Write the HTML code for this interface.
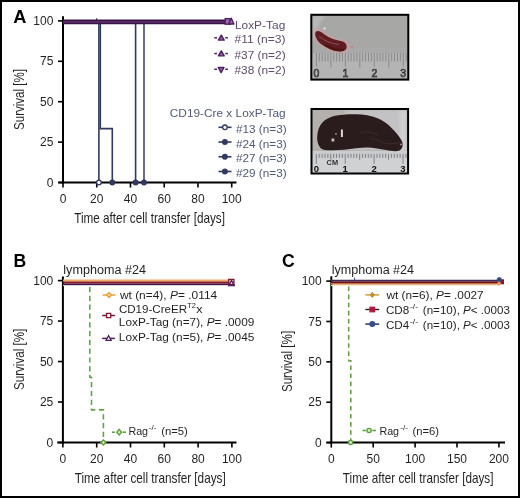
<!DOCTYPE html><html><head><meta charset="utf-8"><style>html,body{margin:0;padding:0;background:#fff}svg{display:block;will-change:transform}text{font-family:"Liberation Sans", sans-serif}</style></head><body>
<svg width="520" height="498" viewBox="0 0 520 498">
<rect x="0" y="0" width="520" height="498" fill="#fff"/>
<defs><filter id="bl1" x="-20%" y="-20%" width="140%" height="140%"><feGaussianBlur stdDeviation="0.7"/></filter><filter id="bl2" x="-20%" y="-20%" width="140%" height="140%"><feGaussianBlur stdDeviation="1.5"/></filter><linearGradient id="pg1" x1="0" y1="0" x2="0" y2="1"><stop offset="0" stop-color="#bdbdbd"/><stop offset="0.55" stop-color="#c2c2c2"/><stop offset="0.62" stop-color="#d4d4d4"/><stop offset="1" stop-color="#cacaca"/></linearGradient><linearGradient id="pg2" x1="0" y1="0" x2="0" y2="1"><stop offset="0" stop-color="#d0d0d0"/><stop offset="0.65" stop-color="#d8d8d8"/><stop offset="1" stop-color="#dcdcdc"/></linearGradient></defs>
<text x="13.3" y="23.3" font-size="17.8" fill="#000" text-anchor="start" font-weight="bold" textLength="13.2" lengthAdjust="spacingAndGlyphs">A</text>
<line x1="63" y1="16.2" x2="63" y2="183.5" stroke="#000" stroke-width="2"/>
<line x1="58.5" y1="182.5" x2="236.5" y2="182.5" stroke="#000" stroke-width="2"/>
<line x1="58" y1="182.50" x2="63" y2="182.50" stroke="#000" stroke-width="1.6"/>
<text x="53.4" y="186.6" font-size="12" fill="#231f20" text-anchor="end" font-weight="normal">0</text>
<line x1="58" y1="142.10" x2="63" y2="142.10" stroke="#000" stroke-width="1.6"/>
<text x="53.4" y="146.2" font-size="12" fill="#231f20" text-anchor="end" font-weight="normal">25</text>
<line x1="58" y1="101.70" x2="63" y2="101.70" stroke="#000" stroke-width="1.6"/>
<text x="53.4" y="105.8" font-size="12" fill="#231f20" text-anchor="end" font-weight="normal">50</text>
<line x1="58" y1="61.30" x2="63" y2="61.30" stroke="#000" stroke-width="1.6"/>
<text x="53.4" y="65.4" font-size="12" fill="#231f20" text-anchor="end" font-weight="normal">75</text>
<line x1="58" y1="20.90" x2="63" y2="20.90" stroke="#000" stroke-width="1.6"/>
<text x="53.4" y="25.0" font-size="12" fill="#231f20" text-anchor="end" font-weight="normal">100</text>
<line x1="63.00" y1="182.5" x2="63.00" y2="187.5" stroke="#000" stroke-width="1.6"/>
<text x="63.0" y="202.7" font-size="12" fill="#231f20" text-anchor="middle" font-weight="normal">0</text>
<line x1="96.74" y1="182.5" x2="96.74" y2="187.5" stroke="#000" stroke-width="1.6"/>
<text x="96.74" y="202.7" font-size="12" fill="#231f20" text-anchor="middle" font-weight="normal">20</text>
<line x1="130.48" y1="182.5" x2="130.48" y2="187.5" stroke="#000" stroke-width="1.6"/>
<text x="130.48" y="202.7" font-size="12" fill="#231f20" text-anchor="middle" font-weight="normal">40</text>
<line x1="164.22" y1="182.5" x2="164.22" y2="187.5" stroke="#000" stroke-width="1.6"/>
<text x="164.22" y="202.7" font-size="12" fill="#231f20" text-anchor="middle" font-weight="normal">60</text>
<line x1="197.96" y1="182.5" x2="197.96" y2="187.5" stroke="#000" stroke-width="1.6"/>
<text x="197.96" y="202.7" font-size="12" fill="#231f20" text-anchor="middle" font-weight="normal">80</text>
<line x1="231.70" y1="182.5" x2="231.70" y2="187.5" stroke="#000" stroke-width="1.6"/>
<text x="231.7" y="202.7" font-size="12" fill="#231f20" text-anchor="middle" font-weight="normal">100</text>
<text x="74.2" y="223.1" font-size="14.8" fill="#231f20" text-anchor="start" font-weight="normal" textLength="150.8" lengthAdjust="spacingAndGlyphs">Time after cell transfer [days]</text>
<text transform="translate(23.6,99.5) rotate(-90)" x="0" y="0" font-size="15.2" fill="#231f20" text-anchor="middle" textLength="61" lengthAdjust="spacingAndGlyphs">Survival [%]</text>
<g stroke="#30395e" fill="none" stroke-width="1.6">
<line x1="98.9" y1="21" x2="98.9" y2="182"/>
<polyline points="100.3,21 100.3,128.6 112.3,128.6 112.3,182"/>
<line x1="135.6" y1="21" x2="135.6" y2="182"/>
<line x1="144" y1="21" x2="144" y2="182" stroke="#434a68"/>
</g>
<circle cx="98.9" cy="182.5" r="2.3" fill="#fff" stroke="#30395e" stroke-width="1.3"/>
<circle cx="112.3" cy="182.5" r="2.3" fill="#30395e" stroke="#30395e" stroke-width="1.3"/>
<circle cx="135.6" cy="182.5" r="2.3" fill="#30395e" stroke="#30395e" stroke-width="1.3"/>
<circle cx="144" cy="182.5" r="2.3" fill="#30395e" stroke="#30395e" stroke-width="1.3"/>
<line x1="63" y1="21.9" x2="226" y2="21.9" stroke="#3a1448" stroke-width="4.6"/>
<line x1="63" y1="21.9" x2="226" y2="21.9" stroke="#56295f" stroke-width="2"/>
<line x1="96.7" y1="18.2" x2="96.7" y2="20.5" stroke="#2a2238" stroke-width="1.1"/>
<rect x="225.2" y="18.6" width="5" height="5.6" fill="#9a6ab0" stroke="#4d1d5f" stroke-width="1.3"/>
<polygon points="231.3,18.2 234,24 228.6,24" fill="#9a6ab0" stroke="#4d1d5f" stroke-width="1.3" stroke-linejoin="round"/>
<text x="234.9" y="28.8" font-size="11" fill="#5e4c6c" text-anchor="start" font-weight="normal" textLength="50.4" lengthAdjust="spacingAndGlyphs">LoxP-Tag</text>
<line x1="214.3" y1="37.8" x2="217" y2="37.8" stroke="#4d1d5f" stroke-width="1.5"/>
<line x1="225.3" y1="37.8" x2="227.9" y2="37.8" stroke="#4d1d5f" stroke-width="1.5"/>
<polygon points="221.3,35.199999999999996 224.2,40.099999999999994 218.4,40.099999999999994" fill="#8d6a9c" stroke="#4d1d5f" stroke-width="1.4" stroke-linejoin="round"/>
<text x="234.5" y="42.7" font-size="11" fill="#5e4c6c" text-anchor="start" font-weight="normal" textLength="51.1" lengthAdjust="spacingAndGlyphs">#11 (n=3)</text>
<line x1="214.3" y1="53.55" x2="217" y2="53.55" stroke="#4d1d5f" stroke-width="1.5"/>
<line x1="225.3" y1="53.55" x2="227.9" y2="53.55" stroke="#4d1d5f" stroke-width="1.5"/>
<polygon points="221.3,50.949999999999996 224.2,55.849999999999994 218.4,55.849999999999994" fill="#8d6a9c" stroke="#4d1d5f" stroke-width="1.4" stroke-linejoin="round"/>
<text x="234.5" y="58.55" font-size="11" fill="#5e4c6c" text-anchor="start" font-weight="normal" textLength="51.1" lengthAdjust="spacingAndGlyphs">#37 (n=2)</text>
<line x1="214.3" y1="69.3" x2="217" y2="69.3" stroke="#4d1d5f" stroke-width="1.5"/>
<line x1="225.3" y1="69.3" x2="227.9" y2="69.3" stroke="#4d1d5f" stroke-width="1.5"/>
<polygon points="221.1,72.6 224,67.5 218.2,67.5" fill="#8d6a9c" stroke="#4d1d5f" stroke-width="1.4" stroke-linejoin="round"/>
<text x="234.5" y="74.4" font-size="11" fill="#5e4c6c" text-anchor="start" font-weight="normal" textLength="51.1" lengthAdjust="spacingAndGlyphs">#38 (n=2)</text>
<text x="169.8" y="117.2" font-size="11" fill="#4f5a74" text-anchor="start" font-weight="normal" textLength="115.8" lengthAdjust="spacingAndGlyphs">CD19-Cre x LoxP-Tag</text>
<line x1="218.5" y1="127.3" x2="231.5" y2="127.3" stroke="#30395e" stroke-width="1.6"/>
<circle cx="224.9" cy="127.3" r="2.3" fill="#fff" stroke="#30395e" stroke-width="1.3"/>
<text x="236" y="133.0" font-size="11" fill="#4f5a74" text-anchor="start" font-weight="normal" textLength="50.6" lengthAdjust="spacingAndGlyphs">#13 (n=3)</text>
<line x1="218.5" y1="142.03" x2="231.5" y2="142.03" stroke="#30395e" stroke-width="1.6"/>
<circle cx="224.9" cy="142.03" r="2.3" fill="#30395e" stroke="#30395e" stroke-width="1.3"/>
<text x="236" y="147.73" font-size="11" fill="#4f5a74" text-anchor="start" font-weight="normal" textLength="50.6" lengthAdjust="spacingAndGlyphs">#24 (n=3)</text>
<line x1="218.5" y1="156.76" x2="231.5" y2="156.76" stroke="#30395e" stroke-width="1.6"/>
<circle cx="224.9" cy="156.76" r="2.3" fill="#30395e" stroke="#30395e" stroke-width="1.3"/>
<text x="236" y="162.46" font-size="11" fill="#4f5a74" text-anchor="start" font-weight="normal" textLength="50.6" lengthAdjust="spacingAndGlyphs">#27 (n=3)</text>
<line x1="218.5" y1="171.49" x2="231.5" y2="171.49" stroke="#30395e" stroke-width="1.6"/>
<circle cx="224.9" cy="171.49" r="2.3" fill="#30395e" stroke="#30395e" stroke-width="1.3"/>
<text x="236" y="177.19" font-size="11" fill="#4f5a74" text-anchor="start" font-weight="normal" textLength="50.6" lengthAdjust="spacingAndGlyphs">#29 (n=3)</text>
<rect x="311.3" y="14.8" width="97" height="64.8" fill="#a7a7a5"/>
<path d="M312,16 L326,16 C320,20 317,27 317,33 L312,44 Z" fill="#b8b8b8" filter="url(#bl2)"/>
<rect x="312" y="48" width="95" height="5.5" fill="#a9a9a9" filter="url(#bl1)"/>
<rect x="312" y="53" width="95" height="25" fill="#b4b4b4"/>
<g filter="url(#bl1)"><path d="M314,30 C316,26.5 320,27.5 324.5,31.5 C330,36 336,38.2 342,39.4 C347,40.5 350,44 349.5,48 C349,52 344.5,54 339,53.5 C332,53 326,50 320,45.5 C315.5,42 312.5,34.5 314,30 Z" fill="#c9a0a0" opacity="0.6"/><path d="M315.6,32 C317.5,30 321,31.5 324.5,34.5 C329.5,38.3 336,40.2 342,41.3 C345.5,42.2 347,45 346.6,47.8 C346,50.6 343,52 338.5,51.6 C332,51 326.5,48 321,44 C317,40.8 314.2,35.5 315.6,32 Z" fill="#5e1e20"/><path d="M325,44.5 C331,48.5 337,50.5 344,50" stroke="#481416" stroke-width="2" fill="none"/><path d="M319,36.5 C325,41 331,43.5 339,44.5" stroke="#8a5055" stroke-width="1" fill="none"/><circle cx="352" cy="47" r="1.6" fill="#c08a8a"/><circle cx="324.5" cy="28.5" r="1.3" fill="#d8d8d8"/></g>
<g stroke="#8a8a8a" stroke-width="1">
<line x1="316.40" y1="53" x2="316.40" y2="66.5"/>
<line x1="319.29" y1="53" x2="319.29" y2="61.5"/>
<line x1="322.19" y1="53" x2="322.19" y2="61.5"/>
<line x1="325.08" y1="53" x2="325.08" y2="61.5"/>
<line x1="327.98" y1="53" x2="327.98" y2="61.5"/>
<line x1="330.88" y1="53" x2="330.88" y2="67.5"/>
<line x1="333.77" y1="53" x2="333.77" y2="61.5"/>
<line x1="336.66" y1="53" x2="336.66" y2="61.5"/>
<line x1="339.56" y1="53" x2="339.56" y2="61.5"/>
<line x1="342.45" y1="53" x2="342.45" y2="61.5"/>
<line x1="345.35" y1="53" x2="345.35" y2="66.5"/>
<line x1="348.25" y1="53" x2="348.25" y2="61.5"/>
<line x1="351.14" y1="53" x2="351.14" y2="61.5"/>
<line x1="354.03" y1="53" x2="354.03" y2="61.5"/>
<line x1="356.93" y1="53" x2="356.93" y2="61.5"/>
<line x1="359.82" y1="53" x2="359.82" y2="67.5"/>
<line x1="362.72" y1="53" x2="362.72" y2="61.5"/>
<line x1="365.62" y1="53" x2="365.62" y2="61.5"/>
<line x1="368.51" y1="53" x2="368.51" y2="61.5"/>
<line x1="371.40" y1="53" x2="371.40" y2="61.5"/>
<line x1="374.30" y1="53" x2="374.30" y2="66.5"/>
<line x1="377.19" y1="53" x2="377.19" y2="61.5"/>
<line x1="380.09" y1="53" x2="380.09" y2="61.5"/>
<line x1="382.98" y1="53" x2="382.98" y2="61.5"/>
<line x1="385.88" y1="53" x2="385.88" y2="61.5"/>
<line x1="388.77" y1="53" x2="388.77" y2="67.5"/>
<line x1="391.67" y1="53" x2="391.67" y2="61.5"/>
<line x1="394.56" y1="53" x2="394.56" y2="61.5"/>
<line x1="397.46" y1="53" x2="397.46" y2="61.5"/>
<line x1="400.35" y1="53" x2="400.35" y2="61.5"/>
<line x1="403.25" y1="53" x2="403.25" y2="66.5"/>
<line x1="406.14" y1="53" x2="406.14" y2="61.5"/>
</g>
<text x="316.4" y="77.4" font-size="10.5" fill="#8a8a8a" text-anchor="middle" font-weight="normal" stroke="#2a2a2a" stroke-width="0.6">0</text>
<text x="345.35" y="77.4" font-size="10.5" fill="#8a8a8a" text-anchor="middle" font-weight="normal" stroke="#2a2a2a" stroke-width="0.6">1</text>
<text x="374.3" y="77.4" font-size="10.5" fill="#8a8a8a" text-anchor="middle" font-weight="normal" stroke="#2a2a2a" stroke-width="0.6">2</text>
<text x="403.25" y="77.4" font-size="10.5" fill="#8a8a8a" text-anchor="middle" font-weight="normal" stroke="#2a2a2a" stroke-width="0.6">3</text>
<rect x="311.3" y="14.8" width="97" height="64.8" fill="none" stroke="#000" stroke-width="2"/>
<rect x="311.5" y="109" width="96.6" height="64.5" fill="#b4b0ae"/>
<rect x="345" y="110" width="55" height="40" fill="#c2c1c4" filter="url(#bl2)"/>
<rect x="399" y="110" width="8" height="42" fill="#cfcfd0" filter="url(#bl2)"/>
<rect x="312" y="151" width="95" height="22" fill="#cbcccf"/>
<rect x="312" y="158.5" width="95" height="14.5" fill="#d0d1d3"/>
<g filter="url(#bl1)"><path d="M317.2,137 C317.5,131 319,126.5 322,123 C325,119.5 329,117.3 334,116 C340,114.6 348,114.2 356,114.3 C364,114.4 371,115.8 377,118 C383,120.3 388,124 392,128.5 C396,132.5 399.5,136.5 401.5,140.5 C403.5,144 403,148.5 399.5,150.5 C396,151.8 391,151 386,150 C380,149 374,147.8 367,147.6 C360,147.6 352,149 344,149.7 C336,150.3 328,150.6 323,149.4 C319,148 317,142.5 317.2,137 Z" fill="#2c1c1b"/></g>
<g filter="url(#bl1)" fill="none" stroke="#4a302c" stroke-width="0.9" opacity="0.8"><path d="M369.5,138 C376,139 381,142 386,143.5 C391,144.5 396,142.5 400.5,142.8"/><path d="M360,133 C366,131 372,132 378,135"/></g>
<g filter="url(#bl1)"><rect x="340.9" y="129.5" width="2" height="7.5" fill="#e0d4d4"/><rect x="331.5" y="138.5" width="2.8" height="3" fill="#c8b8b8"/><circle cx="336" cy="134" r="1" fill="#9a8080"/><circle cx="401" cy="144.5" r="1.1" fill="#a08282"/></g>
<g stroke="#7a7a7a" stroke-width="0.9">
<line x1="316.30" y1="153.8" x2="316.30" y2="163.8"/>
<line x1="319.19" y1="153.8" x2="319.19" y2="157.8"/>
<line x1="322.08" y1="153.8" x2="322.08" y2="157.8"/>
<line x1="324.97" y1="153.8" x2="324.97" y2="157.8"/>
<line x1="327.86" y1="153.8" x2="327.86" y2="157.8"/>
<line x1="330.75" y1="153.8" x2="330.75" y2="159.8"/>
<line x1="333.64" y1="153.8" x2="333.64" y2="157.8"/>
<line x1="336.53" y1="153.8" x2="336.53" y2="157.8"/>
<line x1="339.42" y1="153.8" x2="339.42" y2="157.8"/>
<line x1="342.31" y1="153.8" x2="342.31" y2="157.8"/>
<line x1="345.20" y1="153.8" x2="345.20" y2="163.8"/>
<line x1="348.09" y1="153.8" x2="348.09" y2="157.8"/>
<line x1="350.98" y1="153.8" x2="350.98" y2="157.8"/>
<line x1="353.87" y1="153.8" x2="353.87" y2="157.8"/>
<line x1="356.76" y1="153.8" x2="356.76" y2="157.8"/>
<line x1="359.65" y1="153.8" x2="359.65" y2="159.8"/>
<line x1="362.54" y1="153.8" x2="362.54" y2="157.8"/>
<line x1="365.43" y1="153.8" x2="365.43" y2="157.8"/>
<line x1="368.32" y1="153.8" x2="368.32" y2="157.8"/>
<line x1="371.21" y1="153.8" x2="371.21" y2="157.8"/>
<line x1="374.10" y1="153.8" x2="374.10" y2="163.8"/>
<line x1="376.99" y1="153.8" x2="376.99" y2="157.8"/>
<line x1="379.88" y1="153.8" x2="379.88" y2="157.8"/>
<line x1="382.77" y1="153.8" x2="382.77" y2="157.8"/>
<line x1="385.66" y1="153.8" x2="385.66" y2="157.8"/>
<line x1="388.55" y1="153.8" x2="388.55" y2="159.8"/>
<line x1="391.44" y1="153.8" x2="391.44" y2="157.8"/>
<line x1="394.33" y1="153.8" x2="394.33" y2="157.8"/>
<line x1="397.22" y1="153.8" x2="397.22" y2="157.8"/>
<line x1="400.11" y1="153.8" x2="400.11" y2="157.8"/>
<line x1="403.00" y1="153.8" x2="403.00" y2="163.8"/>
<line x1="405.89" y1="153.8" x2="405.89" y2="157.8"/>
</g>
<text x="332.3" y="164.9" font-size="8" fill="#333" text-anchor="middle" font-weight="bold" textLength="11.5" lengthAdjust="spacingAndGlyphs">CM</text>
<text x="316.3" y="172.3" font-size="9.5" fill="#111" text-anchor="middle" font-weight="bold">0</text>
<text x="345.2" y="172.3" font-size="9.5" fill="#111" text-anchor="middle" font-weight="bold">1</text>
<text x="374.1" y="172.3" font-size="9.5" fill="#111" text-anchor="middle" font-weight="bold">2</text>
<text x="403.0" y="172.3" font-size="9.5" fill="#111" text-anchor="middle" font-weight="bold">3</text>
<rect x="311.5" y="109" width="96.6" height="64.5" fill="none" stroke="#000" stroke-width="2"/>
<text x="13.4" y="266.9" font-size="17.6" fill="#000" text-anchor="start" font-weight="bold">B</text>
<text x="63.3" y="274.3" font-size="12" fill="#231f20" text-anchor="start" font-weight="normal" textLength="82.8" lengthAdjust="spacingAndGlyphs">lymphoma #24</text>
<line x1="62.9" y1="276.5" x2="62.9" y2="443.5" stroke="#000" stroke-width="2"/>
<line x1="57.3" y1="442.5" x2="236.5" y2="442.5" stroke="#000" stroke-width="2"/>
<line x1="57.9" y1="442.50" x2="62.9" y2="442.50" stroke="#000" stroke-width="1.6"/>
<text x="53.3" y="446.6" font-size="12" fill="#231f20" text-anchor="end" font-weight="normal">0</text>
<line x1="57.9" y1="402.02" x2="62.9" y2="402.02" stroke="#000" stroke-width="1.6"/>
<text x="53.3" y="406.12" font-size="12" fill="#231f20" text-anchor="end" font-weight="normal">25</text>
<line x1="57.9" y1="361.55" x2="62.9" y2="361.55" stroke="#000" stroke-width="1.6"/>
<text x="53.3" y="365.65" font-size="12" fill="#231f20" text-anchor="end" font-weight="normal">50</text>
<line x1="57.9" y1="321.08" x2="62.9" y2="321.08" stroke="#000" stroke-width="1.6"/>
<text x="53.3" y="325.18" font-size="12" fill="#231f20" text-anchor="end" font-weight="normal">75</text>
<line x1="57.9" y1="280.60" x2="62.9" y2="280.60" stroke="#000" stroke-width="1.6"/>
<text x="53.3" y="284.7" font-size="12" fill="#231f20" text-anchor="end" font-weight="normal">100</text>
<line x1="62.90" y1="442.5" x2="62.90" y2="447.5" stroke="#000" stroke-width="1.6"/>
<text x="62.9" y="462.7" font-size="12" fill="#231f20" text-anchor="middle" font-weight="normal">0</text>
<line x1="96.70" y1="442.5" x2="96.70" y2="447.5" stroke="#000" stroke-width="1.6"/>
<text x="96.7" y="462.7" font-size="12" fill="#231f20" text-anchor="middle" font-weight="normal">20</text>
<line x1="130.50" y1="442.5" x2="130.50" y2="447.5" stroke="#000" stroke-width="1.6"/>
<text x="130.5" y="462.7" font-size="12" fill="#231f20" text-anchor="middle" font-weight="normal">40</text>
<line x1="164.30" y1="442.5" x2="164.30" y2="447.5" stroke="#000" stroke-width="1.6"/>
<text x="164.3" y="462.7" font-size="12" fill="#231f20" text-anchor="middle" font-weight="normal">60</text>
<line x1="198.10" y1="442.5" x2="198.10" y2="447.5" stroke="#000" stroke-width="1.6"/>
<text x="198.1" y="462.7" font-size="12" fill="#231f20" text-anchor="middle" font-weight="normal">80</text>
<line x1="231.90" y1="442.5" x2="231.90" y2="447.5" stroke="#000" stroke-width="1.6"/>
<text x="231.9" y="462.7" font-size="12" fill="#231f20" text-anchor="middle" font-weight="normal">100</text>
<text x="74.7" y="483.2" font-size="14.8" fill="#231f20" text-anchor="start" font-weight="normal" textLength="151" lengthAdjust="spacingAndGlyphs">Time after cell transfer [days]</text>
<text transform="translate(23.7,359.4) rotate(-90)" x="0" y="0" font-size="15.2" fill="#231f20" text-anchor="middle" textLength="61.2" lengthAdjust="spacingAndGlyphs">Survival [%]</text>
<polyline points="89.8,285 89.8,377.3 91.5,377.3 91.5,409.9 103.4,409.9 103.4,441" fill="none" stroke="#68a04e" stroke-width="1.6" stroke-dasharray="5.2,3.6" stroke-dashoffset="6.8"/>
<polygon points="103.4,439.9 105.9,442.4 103.4,444.9 100.9,442.4" fill="#d4f0c0" stroke="#5c9e3c" stroke-width="1.4"/>
<line x1="63" y1="285.6" x2="228" y2="285.6" stroke="#ddd0e6" stroke-width="1"/>
<line x1="63" y1="280.6" x2="228" y2="280.6" stroke="#eeaa62" stroke-width="2"/>
<line x1="63" y1="282.6" x2="228" y2="282.6" stroke="#8a1824" stroke-width="2"/>
<line x1="63" y1="284.3" x2="228" y2="284.3" stroke="#46103e" stroke-width="1.4"/>
<rect x="228.70000000000002" y="279.4" width="5.2" height="5.2" fill="#f3d0d8" stroke="#7d1830" stroke-width="1.3"/>
<polygon points="231.5,280.5 234.35,285.6 228.65,285.6" fill="none" stroke="#4d1d5f" stroke-width="1.3"/>
<line x1="102.8" y1="295" x2="115.5" y2="295" stroke="#e9a13b" stroke-width="1.5"/>
<polygon points="109.1,292.5 111.6,295 109.1,297.5 106.6,295" fill="#f6d9a8" stroke="#e9a13b" stroke-width="1.3"/>
<text x="119.9" y="298.7" font-size="11" fill="#231f20" text-anchor="start" font-weight="normal" textLength="97.3" lengthAdjust="spacingAndGlyphs">wt (n=4), <tspan font-style="italic">P</tspan>= .0114</text>
<line x1="102.2" y1="315.5" x2="114.9" y2="315.5" stroke="#7d1830" stroke-width="1.5"/>
<rect x="106.5" y="313.4" width="4.2" height="4.2" fill="#fff" stroke="#7d1830" stroke-width="1.3"/>
<text x="118.9" y="312.5" font-size="11" fill="#231f20" text-anchor="start" font-weight="normal" textLength="68.2" lengthAdjust="spacingAndGlyphs">CD19-CreER</text>
<text x="187.3" y="308.3" font-size="7.5" fill="#231f20" text-anchor="start" font-weight="normal" textLength="8.6" lengthAdjust="spacingAndGlyphs">T2</text>
<text x="196.3" y="313.2" font-size="11" fill="#231f20" text-anchor="start" font-weight="normal" textLength="6.3" lengthAdjust="spacingAndGlyphs">x</text>
<text x="118.8" y="325.8" font-size="11" fill="#231f20" text-anchor="start" font-weight="normal" textLength="135.6" lengthAdjust="spacingAndGlyphs">LoxP-Tag (n=7), <tspan font-style="italic">P</tspan>= .0009</text>
<line x1="102.2" y1="338.4" x2="114.9" y2="338.4" stroke="#4d1d5f" stroke-width="1.5"/>
<polygon points="108.6,335.7 111.16499999999999,340.28999999999996 106.035,340.28999999999996" fill="#fff" stroke="#4d1d5f" stroke-width="1.3"/>
<text x="118.8" y="341.2" font-size="11" fill="#231f20" text-anchor="start" font-weight="normal" textLength="135.6" lengthAdjust="spacingAndGlyphs">LoxP-Tag (n=5), <tspan font-style="italic">P</tspan>= .0045</text>
<line x1="111.9" y1="432.2" x2="114.8" y2="432.2" stroke="#5c9e3c" stroke-width="1.6"/>
<line x1="122.8" y1="432.2" x2="125.9" y2="432.2" stroke="#5c9e3c" stroke-width="1.6"/>
<polygon points="119.2,429.4 121.6,432.2 119.2,435 116.8,432.2" fill="#d4f0c0" stroke="#5c9e3c" stroke-width="1.4"/>
<text x="128.4" y="435.1" font-size="11" fill="#231f20" text-anchor="start" font-weight="normal" textLength="19.7" lengthAdjust="spacingAndGlyphs">Rag</text>
<text x="148.8" y="430" font-size="6.5" fill="#231f20" text-anchor="start" font-weight="normal" textLength="7.7" lengthAdjust="spacingAndGlyphs">-/-</text>
<text x="161.2" y="435.1" font-size="11" fill="#231f20" text-anchor="start" font-weight="normal" textLength="26.7" lengthAdjust="spacingAndGlyphs">(n=5)</text>
<text x="282" y="267.3" font-size="17.6" fill="#000" text-anchor="start" font-weight="bold">C</text>
<text x="331.8" y="274.2" font-size="12" fill="#231f20" text-anchor="start" font-weight="normal" textLength="82.2" lengthAdjust="spacingAndGlyphs">lymphoma #24</text>
<line x1="331.3" y1="276.3" x2="331.3" y2="443.6" stroke="#000" stroke-width="2"/>
<line x1="326.5" y1="442.6" x2="505" y2="442.6" stroke="#000" stroke-width="2"/>
<line x1="326.3" y1="442.60" x2="331.3" y2="442.60" stroke="#000" stroke-width="1.6"/>
<text x="321.7" y="446.7" font-size="12" fill="#231f20" text-anchor="end" font-weight="normal">0</text>
<line x1="326.3" y1="402.23" x2="331.3" y2="402.23" stroke="#000" stroke-width="1.6"/>
<text x="321.7" y="406.33" font-size="12" fill="#231f20" text-anchor="end" font-weight="normal">25</text>
<line x1="326.3" y1="361.85" x2="331.3" y2="361.85" stroke="#000" stroke-width="1.6"/>
<text x="321.7" y="365.95" font-size="12" fill="#231f20" text-anchor="end" font-weight="normal">50</text>
<line x1="326.3" y1="321.48" x2="331.3" y2="321.48" stroke="#000" stroke-width="1.6"/>
<text x="321.7" y="325.58" font-size="12" fill="#231f20" text-anchor="end" font-weight="normal">75</text>
<line x1="326.3" y1="281.10" x2="331.3" y2="281.10" stroke="#000" stroke-width="1.6"/>
<text x="321.7" y="285.2" font-size="12" fill="#231f20" text-anchor="end" font-weight="normal">100</text>
<line x1="331.30" y1="442.6" x2="331.30" y2="447.6" stroke="#000" stroke-width="1.6"/>
<text x="331.3" y="462.8" font-size="12" fill="#231f20" text-anchor="middle" font-weight="normal">0</text>
<line x1="373.20" y1="442.6" x2="373.20" y2="447.6" stroke="#000" stroke-width="1.6"/>
<text x="373.2" y="462.8" font-size="12" fill="#231f20" text-anchor="middle" font-weight="normal">50</text>
<line x1="415.10" y1="442.6" x2="415.10" y2="447.6" stroke="#000" stroke-width="1.6"/>
<text x="415.1" y="462.8" font-size="12" fill="#231f20" text-anchor="middle" font-weight="normal">100</text>
<line x1="457.00" y1="442.6" x2="457.00" y2="447.6" stroke="#000" stroke-width="1.6"/>
<text x="457.0" y="462.8" font-size="12" fill="#231f20" text-anchor="middle" font-weight="normal">150</text>
<line x1="498.90" y1="442.6" x2="498.90" y2="447.6" stroke="#000" stroke-width="1.6"/>
<text x="498.9" y="462.8" font-size="12" fill="#231f20" text-anchor="middle" font-weight="normal">200</text>
<text x="342.8" y="483.2" font-size="14.8" fill="#231f20" text-anchor="start" font-weight="normal" textLength="150.7" lengthAdjust="spacingAndGlyphs">Time after cell transfer [days]</text>
<text transform="translate(291.7,361.5) rotate(-90)" x="0" y="0" font-size="15.2" fill="#231f20" text-anchor="middle" textLength="61.2" lengthAdjust="spacingAndGlyphs">Survival [%]</text>
<polyline points="348.7,285 348.7,360.8 350.8,360.8 350.8,441" fill="none" stroke="#68a04e" stroke-width="1.6" stroke-dasharray="4.6,3.5" stroke-dashoffset="6.6"/>
<circle cx="350.6" cy="442.5" r="2.1" fill="#d4f0c0" stroke="#5c9e3c" stroke-width="1.4"/>
<line x1="331" y1="285.3" x2="498" y2="285.3" stroke="#f6eccc" stroke-width="1.2"/>
<line x1="331" y1="280.6" x2="498" y2="280.6" stroke="#3e2d5c" stroke-width="1.5"/>
<line x1="331" y1="282.2" x2="498" y2="282.2" stroke="#6c1422" stroke-width="1.7"/>
<line x1="331" y1="283.8" x2="498" y2="283.8" stroke="#c8703a" stroke-width="1.5"/>
<line x1="354.6" y1="277.5" x2="354.6" y2="281" stroke="#2b4a8a" stroke-width="1"/>
<rect x="500.2" y="279.3" width="3.8" height="5" fill="#8c1232"/>
<circle cx="499.3" cy="279.7" r="2.2" fill="#2d4a78" stroke="#2d4a78" stroke-width="0.8"/>
<polygon points="499,281.2 501.3,283.6 499,286 496.7,283.6" fill="#e8955a"/>
<line x1="365.4" y1="294.9" x2="379.2" y2="294.9" stroke="#c89a30" stroke-width="1.4"/>
<polygon points="372.3,292.4 374.3,294.9 372.3,297.4 370.3,294.9" fill="#c8902c" stroke="#b8862a" stroke-width="1"/>
<text x="386.5" y="299.4" font-size="11" fill="#231f20" text-anchor="start" font-weight="normal" textLength="97.1" lengthAdjust="spacingAndGlyphs">wt (n=6), <tspan font-style="italic">P</tspan>= .0027</text>
<line x1="365.4" y1="309.5" x2="379.2" y2="309.5" stroke="#3a1420" stroke-width="1.4"/>
<rect x="370.0" y="307.2" width="4.6" height="4.6" fill="#b0183c" stroke="#b0183c" stroke-width="1.2"/>
<text x="385.9" y="314" font-size="11" fill="#231f20" text-anchor="start" font-weight="normal" textLength="23.3" lengthAdjust="spacingAndGlyphs">CD8</text>
<text x="410" y="309.4" font-size="6.5" fill="#231f20" text-anchor="start" font-weight="normal" textLength="8.1" lengthAdjust="spacingAndGlyphs">-/-</text>
<text x="422.8" y="314" font-size="11" fill="#231f20" text-anchor="start" font-weight="normal" textLength="87.1" lengthAdjust="spacingAndGlyphs">(n=10), <tspan font-style="italic">P</tspan>&lt; .0003</text>
<line x1="365.4" y1="324.1" x2="379.2" y2="324.1" stroke="#1e2744" stroke-width="1.4"/>
<circle cx="372.3" cy="324.1" r="2.4" fill="#33508c" stroke="#33508c" stroke-width="1.2"/>
<text x="385.9" y="328.6" font-size="11" fill="#231f20" text-anchor="start" font-weight="normal" textLength="23.3" lengthAdjust="spacingAndGlyphs">CD4</text>
<text x="410" y="324.0" font-size="6.5" fill="#231f20" text-anchor="start" font-weight="normal" textLength="8.1" lengthAdjust="spacingAndGlyphs">-/-</text>
<text x="422.8" y="328.6" font-size="11" fill="#231f20" text-anchor="start" font-weight="normal" textLength="87.1" lengthAdjust="spacingAndGlyphs">(n=10), <tspan font-style="italic">P</tspan>&lt; .0003</text>
<line x1="362.6" y1="430.5" x2="365.8" y2="430.5" stroke="#5c9e3c" stroke-width="1.6"/>
<line x1="372.4" y1="430.5" x2="375.9" y2="430.5" stroke="#5c9e3c" stroke-width="1.6"/>
<circle cx="369.1" cy="430.5" r="2.1" fill="#d4f0c0" stroke="#5c9e3c" stroke-width="1.4"/>
<text x="379.4" y="434.8" font-size="11" fill="#231f20" text-anchor="start" font-weight="normal" textLength="19.7" lengthAdjust="spacingAndGlyphs">Rag</text>
<text x="400.2" y="429.6" font-size="6.5" fill="#231f20" text-anchor="start" font-weight="normal" textLength="7.7" lengthAdjust="spacingAndGlyphs">-/-</text>
<text x="412.5" y="434.8" font-size="11" fill="#231f20" text-anchor="start" font-weight="normal" textLength="26.5" lengthAdjust="spacingAndGlyphs">(n=6)</text>
<rect x="1" y="1" width="518" height="496" fill="none" stroke="#000" stroke-width="2"/>
</svg></body></html>
